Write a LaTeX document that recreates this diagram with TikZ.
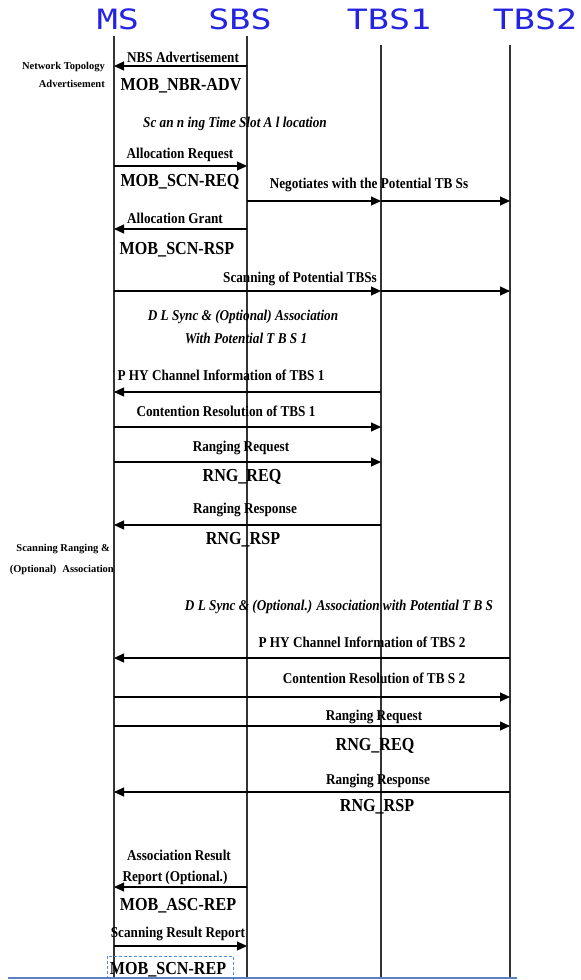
\documentclass[tikz,border=0pt]{standalone}
\usepackage{fontspec}
\usepackage{graphicx}
\setmainfont{Liberation Serif}
\newfontfamily\cond{Liberation Serif}[FakeStretch=0.88]
\newfontfamily\hdrfont{DejaVu Sans Mono}
\usetikzlibrary{arrows.meta}
\definecolor{hdrblue}{RGB}{35,35,225}
\definecolor{boxblue}{RGB}{80,140,225}
\definecolor{baseblue}{RGB}{90,130,195}
\begin{document}
\begin{tikzpicture}[x=1pt,y=-1pt,
 hdr/.style={font=\hdrfont\fontsize{28}{30}\selectfont, text=hdrblue, inner sep=0},
 life/.style={line width=1.3pt, draw=black!80},
 msg/.style={line width=1.2pt, -{Triangle[length=10pt,width=9pt]}},
 lbl/.style={font=\cond\bfseries\fontsize{15}{17}\selectfont, inner sep=0},
 big/.style={font=\cond\bfseries\fontsize{18.3}{20}\selectfont, inner sep=0},
 ital/.style={font=\cond\bfseries\itshape\fontsize{15}{17}\selectfont, inner sep=0},
 side/.style={font=\bfseries\fontsize{10.5}{12}\selectfont, inner sep=0, anchor=east},
]
\useasboundingbox (0,0) rectangle (581,980);
% headers
\node[hdr] (msH) at (118,19) {\scalebox{1.25}[1]{MS}};
\node[hdr] (sbsH) at (240,19) {\scalebox{1.25}[1]{SBS}};
\node[hdr] (t1H) at (389,19) {\scalebox{1.25}[1]{TBS1}};
\node[hdr] (t2H) at (535,19) {\scalebox{1.25}[1]{TBS2}};
% lifelines
\coordinate (ms) at (114,36);
\coordinate (sbs) at (247,36);
\coordinate (ta) at (381,45);
\coordinate (tb) at (510,45);
\coordinate (bot) at (0,978);
\draw[life] (ms) -- (ms |- bot);
\draw[life] (sbs) -- (sbs |- bot);
\draw[life] (ta) -- (ta |- bot);
\draw[life] (tb) -- (tb |- bot);
% y levels of messages
\coordinate (y1) at (0,66);
\coordinate (y2) at (0,166);
\coordinate (y3) at (0,201);
\coordinate (y4) at (0,229);
\coordinate (y5) at (0,291);
\coordinate (y6) at (0,392);
\coordinate (y7) at (0,427);
\coordinate (y8) at (0,462);
\coordinate (y9) at (0,525);
\coordinate (y10) at (0,658);
\coordinate (y11) at (0,697);
\coordinate (y12) at (0,726);
\coordinate (y13) at (0,792);
\coordinate (y14) at (0,887);
\coordinate (y15) at (0,946);
% messages
\draw[msg] (sbs |- y1) -- (ms |- y1);
\draw[msg] (ms |- y2) -- (sbs |- y2);
\draw[msg] (sbs |- y3) -- (ta |- y3);
\draw[msg] (ta |- y3) -- (tb |- y3);
\draw[msg] (sbs |- y4) -- (ms |- y4);
\draw[msg] (ms |- y5) -- (ta |- y5);
\draw[msg] (ta |- y5) -- (tb |- y5);
\draw[msg] (ta |- y6) -- (ms |- y6);
\draw[msg] (ms |- y7) -- (ta |- y7);
\draw[msg] (ms |- y8) -- (ta |- y8);
\draw[msg] (ta |- y9) -- (ms |- y9);
\draw[msg] (tb |- y10) -- (ms |- y10);
\draw[msg] (ms |- y11) -- (tb |- y11);
\draw[msg] (ms |- y12) -- (tb |- y12);
\draw[msg] (tb |- y13) -- (ms |- y13);
\draw[msg] (sbs |- y14) -- (ms |- y14);
\draw[msg] (ms |- y15) -- (sbs |- y15);
% labels
\node[lbl] (l1) at (183,57) {NBS Advertisement};
\node[big] (l1b) at (181,86) {MOB\_NBR-ADV};
\node[side] (s1) at (105,67) {Network Topology};
\node[side] (s2) at (105,84) {Advertisement};
\node[ital] (i1) at (235,124) {Sc an n ing Time Slot A l location};
\node[lbl] (l2) at (180,155) {Allocation Request};
\node[big] (l2b) at (180,182) {MOB\_SCN-REQ};
\node[lbl] (l3) at (369,185) {Negotiates with the Potential TB Ss};
\node[lbl] (l4) at (175,218) {Allocation Grant};
\node[big] (l4b) at (177,250) {MOB\_SCN-RSP};
\node[lbl] (l5) at (300,279) {Scanning of Potential TBSs};
\node[ital] (i2) at (243,317) {D L Sync \& (Optional) Association};
\node[ital] (i3) at (246,338) {With Potential T B S 1};
\node[lbl] (l6) at (221,375) {P HY Channel Information of TBS 1};
\node[lbl] (l7) at (226,411) {Contention Resolution of TBS 1};
\node[lbl] (l8) at (241,448) {Ranging Request};
\node[big] (l8b) at (242,477) {RNG\_REQ};
\node[lbl] (l9) at (245,510) {Ranging Response};
\node[big] (l9b) at (243,540) {RNG\_RSP};
\node[side] (s3) at (110,549) {Scanning Ranging \&};
\node[side] (s4) at (114,570) {(Optional)\hspace{6pt}Association};
\node[ital] (i4) at (339,607) {D L Sync \& (Optional.) Association with Potential T B S};
\node[lbl] (l10) at (362,642) {P HY Channel Information of TBS 2};
\node[lbl] (l11) at (374,678) {Contention Resolution of TB S 2};
\node[lbl] (l12) at (374,717) {Ranging Request};
\node[big] (l12b) at (375,746) {RNG\_REQ};
\node[lbl] (l13) at (378,781) {Ranging Response};
\node[big] (l13b) at (377,807) {RNG\_RSP};
\node[lbl] (l14) at (179,855) {Association Result};
\node[lbl] (l14c) at (175,878) {Report (Optional.)};
\node[big] (l14b) at (178,906) {MOB\_ASC-REP};
\node[lbl] (l15) at (178,934) {Scanning Result Report};
\node[big] (l15b) at (168,970) {MOB\_SCN-REP};
% dashed box round the last label
\draw[boxblue, line width=1pt, dash pattern=on 3pt off 2pt] (107,956) rectangle (233,990);
% bottom line
\draw[baseblue, line width=2pt] (8,978) -- (517,978);
\end{tikzpicture}
\end{document}
